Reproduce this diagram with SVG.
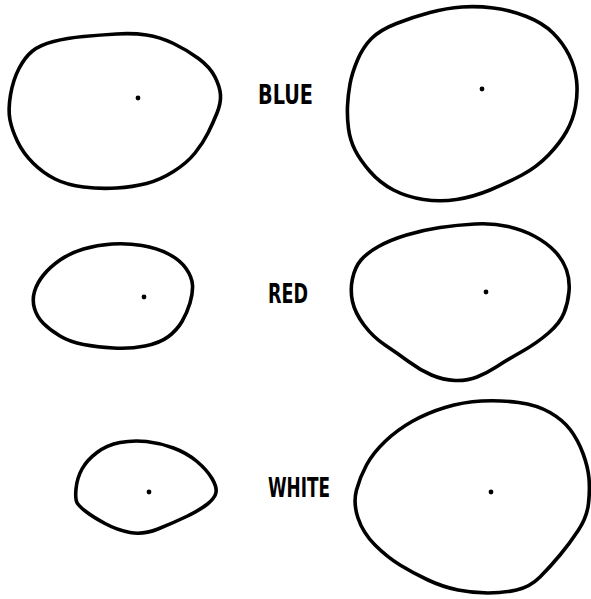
<svg xmlns="http://www.w3.org/2000/svg" width="591" height="599" viewBox="0 0 591 599">
<style>
.blob{fill:none;stroke:#000;stroke-width:3.6;stroke-linejoin:round}
.dot{fill:#000}
.lbl{font-family:"DejaVu Sans","Liberation Sans",sans-serif;font-weight:bold;font-size:26px;fill:#000}
</style>
<rect width="591" height="599" fill="#fff"/>
<g id="blue-left">
<path class="blob" d="M10.5,95 Q13,80 19,68.5 Q25,57 32.5,51 Q40,45 53.5,41.5 Q67,38 83.5,36.5 Q100,35 116.5,34 Q133,33 146.5,35 Q160,37 173.5,43.5 Q187,50 198.5,58.5 Q210,67 215,77 Q220,87 220.5,95 Q221,103 217,113 Q213,123 208,133 Q203,143 195,153 Q187,163 173.5,171.5 Q160,180 146.5,183.5 Q133,187 116.5,188 Q100,189 83.5,187 Q67,185 55,179 Q43,173 33,163 Q23,153 17.5,141.5 Q12,130 10,120 Q8,110 10.5,95 Z"/>
<circle class="dot" cx="138" cy="98" r="2.4"/>
</g>
<g id="blue-right">
<path class="blob" d="M347.5,106 Q348,95 350,84 Q352,73 357.5,60 Q363,47 371.5,38.5 Q380,30 396.5,23.5 Q413,17 430,12.5 Q447,8 462,7 Q477,6 493.5,8 Q510,10 526.5,16.5 Q543,23 553,33 Q563,43 569,55 Q575,67 576.5,80 Q578,93 575.5,106.5 Q573,120 566.5,131.5 Q560,143 548.5,155 Q537,167 522,175 Q507,183 490,190 Q473,197 456.5,199.5 Q440,202 423.5,199.5 Q407,197 393.5,190 Q380,183 370,171.5 Q360,160 355,150 Q350,140 348.5,128.5 Q347,117 347.5,106 Z"/>
<circle class="dot" cx="482" cy="89" r="2.4"/>
</g>
<g id="red-left">
<path class="blob" d="M34.5,291.5 Q37,283 43.5,275 Q50,267 60,260 Q70,253 83.5,249 Q97,245 112,244 Q127,243 142,245.5 Q157,248 168.5,254 Q180,260 186,268.5 Q192,277 192.5,285 Q193,293 190,303 Q187,313 182,321.5 Q177,330 168.5,336.5 Q160,343 145,346 Q130,349 113.5,348 Q97,347 83.5,344.5 Q70,342 60,336 Q50,330 43.5,323.5 Q37,317 34.5,308.5 Q32,300 34.5,291.5 Z"/>
<circle class="dot" cx="144" cy="297" r="2.4"/>
</g>
<g id="red-right">
<path class="blob" d="M352.5,278.5 Q355,267 361,260 Q367,253 378.5,246.5 Q390,240 406.5,235 Q423,230 440,227.5 Q457,225 475,224 Q493,223 508,226.5 Q523,230 535,236.5 Q547,243 555,251.5 Q563,260 566.5,270 Q570,280 569,291.5 Q568,303 564,313 Q560,323 548.5,333 Q537,343 522,351.5 Q507,360 497,366.5 Q487,373 477,377 Q467,381 455,380.5 Q443,380 431.5,375 Q420,370 408.5,361.5 Q397,353 385,345 Q373,337 364,325 Q355,313 352.5,301.5 Q350,290 352.5,278.5 Z"/>
<circle class="dot" cx="486" cy="292" r="2.4"/>
</g>
<g id="white-left">
<path class="blob" d="M76,489 Q77,478 82,469 Q87,460 97,452.5 Q107,445 120,442.5 Q133,440 146.5,441.5 Q160,443 173.5,448 Q187,453 197,461.5 Q207,470 212,478.5 Q217,487 216,492.5 Q215,498 207.5,504 Q200,510 186.5,516.5 Q173,523 158,529 Q143,535 130,532.5 Q117,530 105,523.5 Q93,517 86.5,512 Q80,507 77.5,503.5 Q75,500 76,489 Z"/>
<circle class="dot" cx="149" cy="492" r="2.4"/>
</g>
<g id="white-right">
<path class="blob" d="M356.5,490 Q360,477 366.5,465 Q373,453 385,441.5 Q397,430 412,421.5 Q427,413 445,407.5 Q463,402 481.5,401 Q500,400 518.5,402.5 Q537,405 550,412.5 Q563,420 570.5,430 Q578,440 583,453.5 Q588,467 589,478.5 Q590,490 588.5,503.5 Q587,517 578.5,530 Q570,543 560,555 Q550,567 540,577 Q530,587 516.5,590 Q503,593 488,593 Q473,593 458,590 Q443,587 428,580 Q413,573 400,565 Q387,557 375,545 Q363,533 358,518 Q353,503 356.5,490 Z"/>
<circle class="dot" cx="491" cy="492" r="2.4"/>
</g>
<g id="labels">
<text class="lbl" x="258" y="104" textLength="55" lengthAdjust="spacingAndGlyphs">BLUE</text>
<text class="lbl" x="268" y="303" textLength="40" lengthAdjust="spacingAndGlyphs">RED</text>
<text class="lbl" x="268" y="497" textLength="62" lengthAdjust="spacingAndGlyphs">WHITE</text>
</g>
</svg>
